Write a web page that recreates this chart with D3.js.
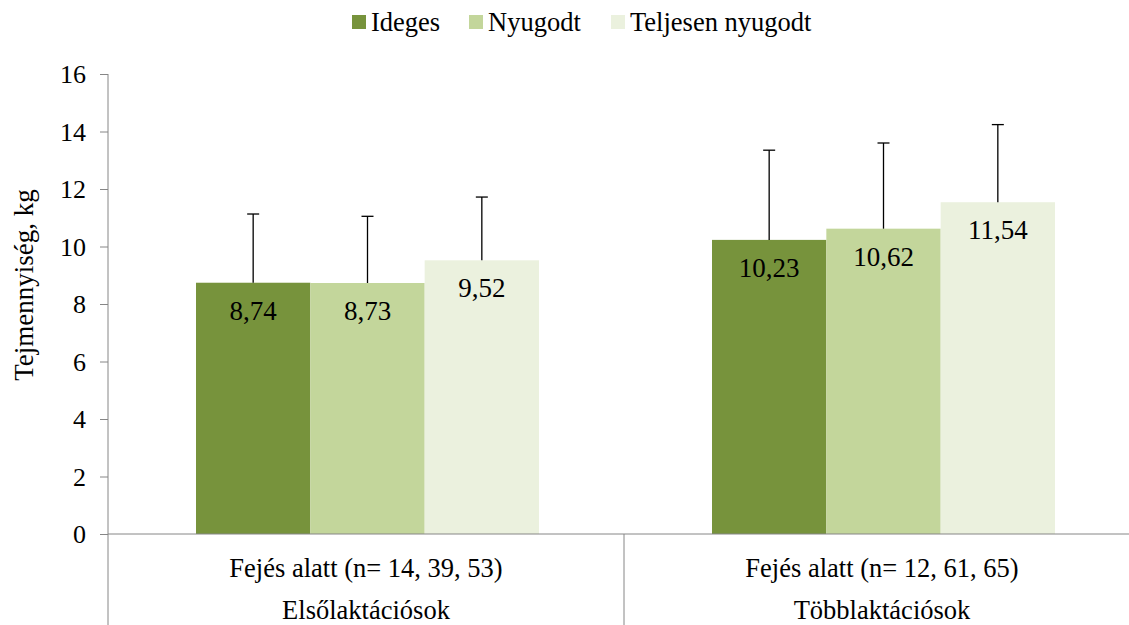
<!DOCTYPE html>
<html>
<head>
<meta charset="utf-8">
<script src="https://cdn.jsdelivr.net/npm/d3@7/dist/d3.min.js"></script>
</head>
<body style="margin:0;background:#fff">
<script>
const groups = ["Elsőlaktációsok", "Többlaktációsok"];
const subLabels = ["Fejés alatt (n= 14, 39, 53)", "Fejés alatt (n= 12, 61, 65)"];
const series = ["Ideges", "Nyugodt", "Teljesen nyugodt"];
const colors = ["#77933C", "#C3D69B", "#EBF1DE"];
// means per series, one value per group
const means = [
  [8.74, 10.23],
  [8.73, 10.62],
  [9.52, 11.54]
];
// upper error (SD) per series
const errors = [
  [2.39, 3.12],
  [2.32, 2.98],
  [2.20, 2.70]
];
const yTicks = [0, 2, 4, 6, 8, 10, 12, 14, 16];

const width = 1129, height = 625;
const mLeft = 108, mRight = 1140, mTop = 74, mBottom = 534;
const FONT = "'Liberation Serif', serif";

const svg = d3.select("body").append("svg")
  .attr("width", width)
  .attr("height", height);

const x0 = d3.scaleBand().domain(groups).range([mLeft, mRight]);
// bar cluster spans ~343px of the 516px band
const x1 = d3.scaleBand().domain(series).range([88, 88 + 343]).padding(0);

const y = d3.scaleLinear().domain([0, 16]).range([mBottom, mTop]);

// y axis
const yAxis = svg.append("g")
  .attr("transform", `translate(${mLeft},0)`)
  .call(d3.axisLeft(y).tickValues(yTicks).tickSize(8).tickPadding(14).tickFormat(d3.format("d")));
yAxis.selectAll("line, path").attr("stroke", "#868686");
yAxis.select(".domain").attr("d", `M0,${mTop}V${height}`);
yAxis.selectAll("text").attr("font-size", 26).attr("dy", "0.34em");

// bars
series.forEach((s, si) => {
  const g = svg.append("g");
  g.selectAll("rect")
    .data(groups)
    .join("rect")
    .attr("x", (d) => x0(d) + x1(s))
    .attr("width", x1.bandwidth())
    .attr("y", (d, gi) => y(means[si][gi]))
    .attr("height", (d, gi) => mBottom - y(means[si][gi]))
    .attr("fill", colors[si]);

  // error bars
  groups.forEach((d, gi) => {
    const cx = x0(d) + x1(s) + x1.bandwidth() / 2;
    const y1 = y(means[si][gi]);
    const y2 = y(means[si][gi] + errors[si][gi]);
    g.append("line").attr("x1", cx).attr("x2", cx).attr("y1", y1).attr("y2", y2)
      .attr("stroke", "#000").attr("stroke-width", 1.3);
    g.append("line").attr("x1", cx - 6).attr("x2", cx + 6).attr("y1", y2).attr("y2", y2)
      .attr("stroke", "#000").attr("stroke-width", 1.3);
  });

  g.selectAll("text.val")
    .data(groups)
    .join("text")
    .attr("class", "val")
    .attr("x", (d) => x0(d) + x1(s) + x1.bandwidth() / 2)
    .attr("y", (d, gi) => y(means[si][gi]) + 37)
    .attr("text-anchor", "middle")
    .attr("font-size", 27)
    .text((d, gi) => means[si][gi].toFixed(2).replace(".", ","));
});

// x axis line and category dividers
svg.append("line").attr("x1", mLeft).attr("x2", mRight).attr("y1", mBottom).attr("y2", mBottom)
  .attr("stroke", "#868686");
groups.forEach((d, i) => {
  const xe = x0(d) + x0.bandwidth();
  if (i < groups.length - 1) {
    svg.append("line").attr("x1", xe).attr("x2", xe).attr("y1", mBottom).attr("y2", height)
      .attr("stroke", "#868686");
  }
  const cx = x0(d) + x0.bandwidth() / 2;
  svg.append("text").attr("x", cx).attr("y", 577).attr("text-anchor", "middle")
    .attr("font-size", 26.5).text(subLabels[i]);
  svg.append("text").attr("x", cx).attr("y", 619).attr("text-anchor", "middle")
    .attr("font-size", 26.5).text(d);
});

// y label
svg.append("text")
  .attr("transform", "translate(33,285) rotate(-90)")
  .attr("text-anchor", "middle")
  .attr("font-size", 27)
  .text("Tejmennyiség, kg");

// legend
const legendX = [352, 469, 611];
const legend = svg.append("g");
series.forEach((s, i) => {
  legend.append("rect").attr("x", legendX[i]).attr("y", 15).attr("width", 14).attr("height", 14)
    .attr("fill", colors[i]);
  legend.append("text").attr("x", legendX[i] + 19).attr("y", 31)
    .attr("font-size", 26.5).text(s);
});

svg.selectAll("text").attr("font-family", FONT).attr("fill", "#000");
</script>
</body>
</html>
